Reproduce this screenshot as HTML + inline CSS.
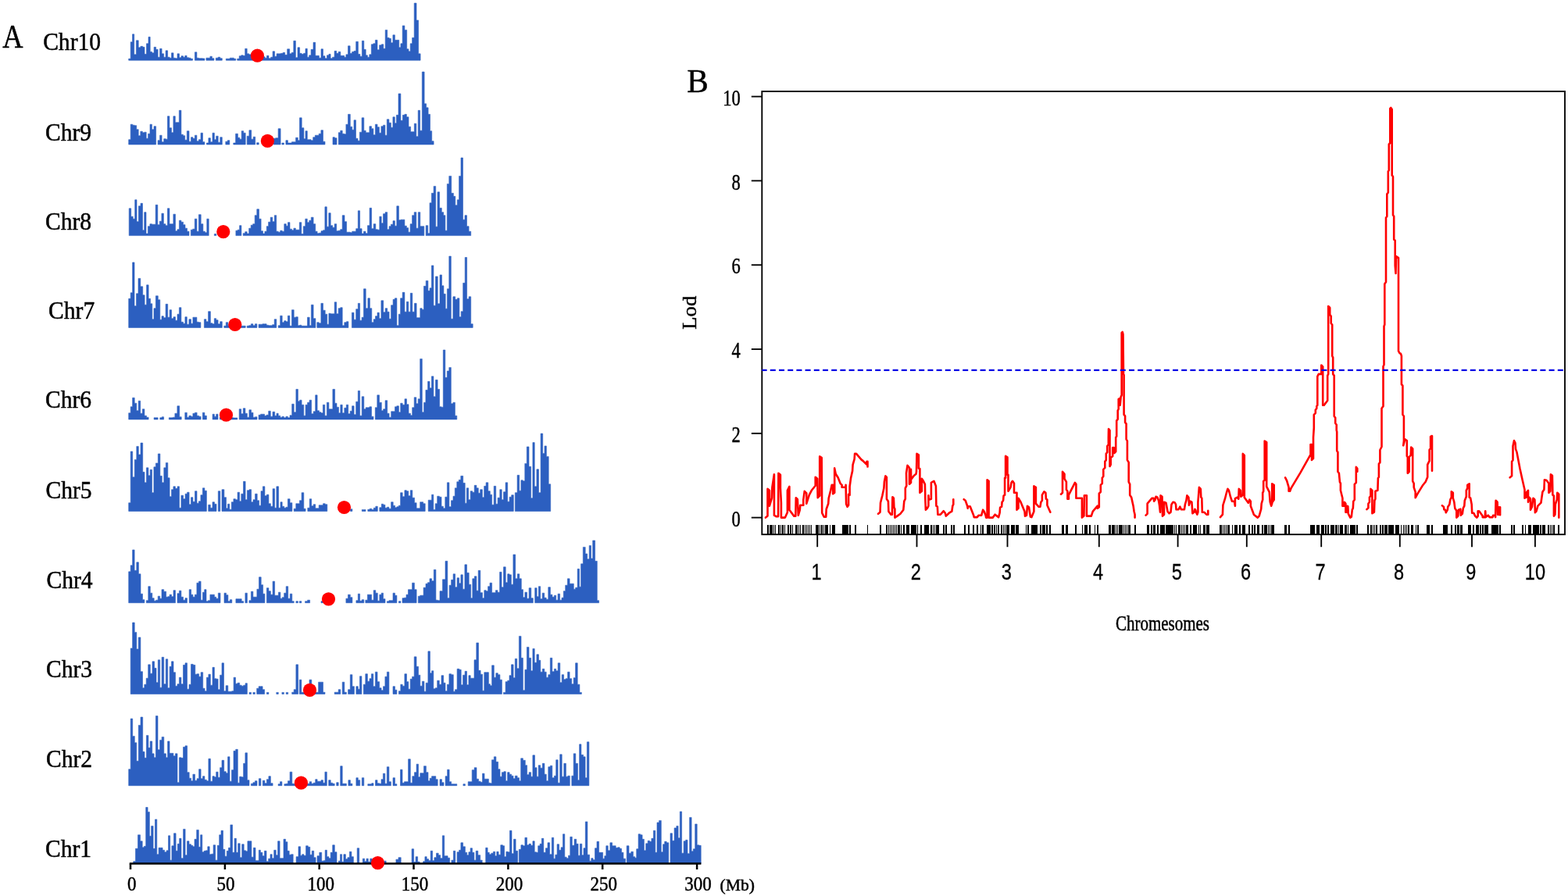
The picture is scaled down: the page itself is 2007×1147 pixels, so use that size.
<!DOCTYPE html>
<html lang="en"><head><meta charset="utf-8"><title>Figure</title>
<style>
html,body{margin:0;padding:0;background:#fff}
body{width:2007px;height:1147px;overflow:hidden}
svg{display:block}
</style></head><body>
<svg width="2007" height="1147" viewBox="0 0 2007 1147">
<rect width="2007" height="1147" fill="#fff"/>
<g id="panelA">
<g fill="#2c5fc0" stroke="#2c5fc0" stroke-width="0.6" stroke-linejoin="round">
<path d="M164.7 77.2V75.2H167.2V53.8H169.5V43.8H171.7V69.8H174.4V51.8H177.2V60.8H179.9V59.3H182.7V60.3H185.0V69.3H187.5V55.8H190.0V47.3H192.2V66.3H194.6V67.8H197.1V60.3H199.6V63.3H202.1V73.2H204.6V62.3H207.1V68.8H209.6V73.2H212.1V64.8H214.6V73.2H217.1V74.2H219.5V67.8H222.0V74.2H224.5V74.7H227.0V68.8H229.5V73.7H232.0V71.7H234.5V73.2H236.8V71.3H239.1V73.7H241.5V74.2H244.0V75.2H246.5V77.2ZM249.4 77.2V66.8H251.9V74.2H254.4V74.7H256.9V74.7H259.4V74.9H261.9V77.2ZM263.9 77.2V74.2H266.4V74.2H268.9V72.2H271.4V74.7H273.9V77.2ZM276.3 77.2V74.2H279.1V73.2H281.8V74.7H284.3V77.2ZM289.3 77.2V75.2H291.8V75.2H294.3V74.2H296.8V74.2H299.3V75.2H301.8V77.2ZM303.7 77.2V75.2H306.2V71.7H308.7V70.8H311.2V71.3H313.7V62.3H316.2V68.8H318.7V69.8H321.2V73.7H323.7V74.2H326.2V74.7H328.7V74.7H331.2V74.7H333.6V74.7H336.4V72.7H339.1V74.2H341.5V71.3H344.0V74.7H346.6V73.2H349.1V65.8H351.6V72.2H354.1V68.8H356.6V68.8H359.4V68.3H362.2V67.3H364.7V70.3H367.7V62.8H370.7V68.8H373.2V67.3H375.8V52.3H378.4V73.7H381.0V60.8H383.6V68.3H386.1V69.3H388.6V68.3H391.0V62.3H393.3V73.2H395.7V70.8H398.1V63.3H401.0V54.3H403.7V71.3H405.9V71.3H408.4V74.2H411.0V62.8H413.5V71.7H416.0V74.7H418.5V70.8H420.9V69.3H423.1V74.7H425.5V73.2H428.1V65.3H430.7V68.3H433.2V66.3H435.8V71.3H438.4V71.3H440.7V73.2H442.9V69.8H445.5V58.8H448.1V68.3H450.6V66.3H453.1V65.3H455.7V53.3H458.4V69.3H460.9V72.2H463.4V52.3H465.8V63.3H468.2V70.8H470.4V73.2H472.8V69.8H475.3V56.8H477.8V55.8H480.4V51.3H483.0V63.8H485.6V57.8H488.3V56.8H490.8V62.3H493.2V38.4H495.7V48.3H498.1V49.3H500.4V54.8H502.9V44.8H505.4V51.3H508.0V51.3H510.7V60.8H512.9V55.8H515.2V32.9H517.9V38.4H520.7V62.8H523.0V65.8H525.2V55.8H527.6V48.3H530.2V4.0H533.0V25.9H535.6V68.8H538.1V77.2Z"/>
<path d="M164.7 185.0V178.7H167.2V159.2H169.7V160.2H172.2V160.7H174.7V165.7H177.2V173.7H179.8V168.2H182.4V169.7H184.8V169.2H187.2V177.2H189.6V171.2H192.0V159.2H194.4V165.7H197.0V161.7H199.6V185.0ZM202.1 185.0V179.7H204.6V173.2H207.1V181.7H209.7V177.7H212.2V178.2H214.4V148.8H216.9V163.7H219.5V169.7H221.9V148.8H224.3V156.7H226.8V156.7H229.3V141.3H231.9V172.2H234.4V173.7H236.7V179.2H239.3V167.7H242.0V181.2H244.5V175.7H246.9V177.2H249.4V173.2H251.9V180.7H254.4V178.7H257.0V170.2H259.5V181.7H261.9V185.0ZM264.4 185.0V183.0H266.9V176.7H269.4V181.7H272.0V170.2H274.4V178.7H276.7V174.2H279.2V182.2H281.8V175.7H284.3V185.0ZM288.8 185.0V181.2H291.3V179.7H293.8V185.0ZM298.8 185.0V183.0H301.6V171.2H304.4V176.2H306.8V178.2H309.2V167.7H311.7V170.2H314.2V185.0ZM316.2 185.0V174.2H318.9V166.7H321.7V178.2H324.2V175.2H326.7V185.0ZM328.7 185.0V182.7H331.2V185.0ZM350.1 185.0V177.2H352.8V176.7H356.1V164.7H359.1V185.0ZM360.9 185.0V183.0H363.4V185.0ZM365.9 185.0V179.7H368.4V183.0H370.9V183.0H373.4V181.7H375.9V181.7H378.6V176.2H381.3V179.7H383.5V150.8H386.2V163.7H388.9V177.7H391.0V167.7H393.3V178.7H395.7V178.7H398.1V179.7H400.7V175.7H403.3V173.2H405.8V173.2H408.2V171.2H410.9V166.7H413.5V181.2H416.0V185.0ZM426.0 185.0V175.7H428.5V176.7H431.0V185.0ZM433.3 185.0V169.7H435.7V167.2H438.2V171.2H440.6V171.7H442.9V159.2H445.5V146.3H448.3V162.2H450.7V166.2H453.0V153.8H455.5V177.2H458.0V180.2H460.4V169.2H463.1V150.8H465.8V167.2H468.2V169.7H470.4V169.7H472.9V161.7H475.5V164.7H477.9V172.7H480.4V159.2H483.0V162.7H485.4V170.2H487.9V161.7H490.5V160.2H492.9V173.2H495.3V152.8H497.9V157.2H500.4V163.2H502.9V149.8H505.3V157.7H507.4V147.3H510.0V119.9H512.9V154.3H515.4V147.3H517.9V146.3H520.4V149.8H523.0V162.2H525.6V168.7H528.0V168.7H530.3V158.2H532.8V174.7H535.2V141.3H537.6V167.2H540.3V92.0H543.1V132.8H545.6V137.8H548.1V146.3H550.5V167.7H552.7V180.7H555.1V185.0Z"/>
<path d="M165.2 301.6V266.8H167.7V277.2H170.2V280.2H172.7V255.8H175.0V283.7H177.4V263.8H180.0V260.3H182.5V294.7H184.7V271.7H187.0V299.1H189.4V289.7H191.9V286.7H194.4V287.2H196.8V287.2H199.2V262.3H201.8V287.7H204.3V283.2H206.9V273.2H209.4V286.7H211.9V288.7H214.4V266.8H216.9V286.7H219.3V286.7H221.9V274.2H224.5V295.7H227.0V293.7H229.4V282.2H231.9V284.2H234.5V287.7H237.0V292.2H239.5V296.2H242.0V301.6ZM244.3 301.6V294.2H246.7V293.2H249.3V280.2H251.9V296.2H254.4V274.7H257.2V286.7H259.9V296.2H262.4V297.7H264.8V280.2H267.2V301.6ZM274.3 301.6V299.6H276.8V301.6ZM301.9 301.6V295.2H304.3V294.2H306.6V288.7H308.9V301.6ZM311.2 301.6V298.7H313.7V296.7H316.2V299.1H318.7V292.2H321.2V288.2H323.7V286.7H326.2V275.7H328.8V267.8H331.5V280.2H334.1V295.7H336.5V299.1H338.9V296.2H341.3V289.7H343.6V284.2H346.2V278.2H348.8V283.7H351.3V275.7H353.7V296.2H356.2V297.2H358.7V295.2H361.2V296.2H363.8V286.7H366.3V289.2H368.5V284.7H371.0V293.2H373.5V294.7H375.9V292.2H378.4V294.2H380.8V294.2H383.3V284.7H385.8V299.6H388.3V289.7H390.8V280.2H393.3V284.7H395.8V282.2H398.3V278.2H401.1V286.7H403.7V296.2H406.1V298.7H408.5V298.2H411.0V295.7H413.5V294.7H415.9V264.8H418.3V290.2H420.8V272.7H423.2V288.7H425.7V291.2H428.2V286.7H430.7V295.7H433.2V295.2H435.7V293.7H438.2V275.7H441.0V283.7H443.6V297.2H445.9V297.2H448.4V297.7H450.7V296.2H453.1V296.2H455.7V292.7H458.3V269.8H460.6V292.7H463.1V299.1H465.5V296.2H468.0V298.7H470.5V288.7H473.1V266.3H475.6V292.7H478.2V286.7H480.8V293.7H483.3V294.2H485.8V277.2H488.2V285.7H490.5V273.7H493.1V271.7H495.7V293.7H498.1V289.7H500.4V287.2H503.0V282.7H505.4V289.2H507.8V263.8H510.4V281.7H512.9V281.2H515.4V281.2H517.9V289.2H520.4V291.7H522.7V297.2H525.1V286.7H527.6V275.7H530.2V271.7H532.8V292.2H535.3V271.7H537.8V289.7H540.3V289.7H542.8V301.6ZM545.2 301.6V288.7H547.7V298.7H550.0V259.8H552.4V247.3H555.1V238.4H557.7V290.2H560.0V245.8H562.6V266.3H565.3V271.7H567.7V275.7H569.9V295.2H572.3V235.4H574.8V225.4H577.7V247.3H580.4V251.3H582.8V262.8H585.3V255.8H587.6V225.4H590.0V202.0H592.5V281.2H595.0V275.7H597.5V289.7H600.1V296.2H602.7V301.6Z"/>
<path d="M164.7 419.4V382.3H167.2V374.8H169.6V335.9H172.0V391.7H174.5V375.8H177.0V356.4H179.8V366.8H182.7V377.8H185.1V390.2H187.6V364.8H190.1V382.3H192.5V388.8H194.8V408.7H197.0V394.7H199.4V378.8H202.3V383.8H204.8V409.2H207.0V404.7H209.4V406.7H212.1V389.3H214.7V406.2H217.1V396.7H219.5V407.7H222.0V405.7H224.5V410.2H227.0V402.2H229.4V393.7H231.9V412.2H234.5V414.2H236.9V405.7H239.3V415.2H241.9V408.7H244.5V414.2H246.9V406.2H249.4V406.2H251.9V412.2H254.4V412.7H256.9V419.4ZM261.4 419.4V408.7H263.9V411.7H266.6V398.7H269.4V413.7H271.9V414.7H274.3V407.7H276.7V409.7H279.1V414.7H281.7V411.7H284.3V419.4ZM286.8 419.4V417.2H289.3V412.7H291.8V416.7H294.3V417.2H296.8V417.2H299.3V417.2H301.8V417.2H304.2V417.2H306.7V417.2H309.2V417.2H311.7V417.2H314.2V419.4ZM316.2 419.4V417.2H318.7V416.7H321.3V414.7H323.9V416.7H326.4V414.7H328.9V419.4ZM331.1 419.4V415.2H333.6V415.2H336.1V414.7H338.6V414.7H341.1V416.2H343.6V416.7H346.1V416.7H348.6V415.7H351.2V408.7H353.8V419.4ZM356.2 419.4V416.7H358.7V404.2H361.2V412.7H363.7V410.7H366.0V411.7H368.4V404.2H370.9V417.2H373.5V396.7H376.2V406.2H378.8V405.7H381.3V416.7H383.5V416.2H385.8V417.2H388.3V417.2H390.8V417.2H393.5V406.2H396.2V416.7H398.4V390.2H401.1V407.7H403.9V419.4ZM405.8 419.4V412.7H408.2V413.7H410.9V388.3H413.5V397.2H416.2V402.2H418.7V415.2H420.9V401.2H423.2V401.7H425.7V401.7H428.2V386.8H430.7V401.7H433.2V394.7H435.7V393.7H438.2V416.7H440.8V412.7H443.4V411.7H445.9V419.4ZM450.4 419.4V400.2H453.0V409.2H455.7V395.7H458.3V388.3H460.6V410.2H463.1V406.2H465.5V369.8H468.2V394.7H470.9V381.8H473.4V394.7H475.8V412.7H478.2V408.7H480.5V404.7H483.0V400.2H485.4V407.7H487.9V384.8H490.7V399.7H493.2V394.7H495.7V399.2H498.1V408.2H500.6V390.7H503.1V383.3H505.4V381.8H507.9V416.7H510.3V402.2H512.6V381.8H515.2V374.3H517.9V399.2H520.4V386.3H522.8V399.2H525.3V375.3H527.8V399.2H530.5V388.3H533.1V406.7H535.5V406.7H537.8V394.7H540.2V396.2H542.5V366.3H545.2V359.4H547.9V372.3H550.1V368.8H552.4V339.9H554.9V391.2H557.5V353.9H560.2V388.8H563.0V351.9H565.5V365.8H567.9V376.3H570.2V395.2H572.4V369.8H574.8V328.0H577.3V408.2H579.9V379.8H582.7V383.3H585.4V381.8H587.9V405.7H590.2V398.7H592.7V362.3H595.2V329.5H597.6V382.8H600.1V379.8H602.7V414.7H605.2V419.4Z"/>
<path d="M164.7 536.9V528.7H167.2V520.7H169.6V509.2H172.2V516.2H174.8V525.7H177.2V513.2H179.7V529.2H182.3V523.7H184.9V532.2H187.5V534.2H190.1V536.9ZM197.1 536.9V534.7H199.6V534.7H202.1V536.9ZM204.8 536.9V534.7H207.2V533.7H209.6V536.9ZM216.3 536.9V534.7H218.8V534.7H221.3V534.2H223.9V529.2H226.9V519.7H229.7V533.7H232.2V536.9ZM236.8 536.9V528.2H239.3V534.2H241.9V532.2H244.5V533.2H246.9V529.2H249.5V528.2H252.1V532.2H254.6V533.2H257.1V536.9ZM259.4 536.9V528.2H261.9V532.2H264.4V536.9ZM272.1 536.9V530.2H274.4V533.2H276.7V530.2H279.0V536.9ZM281.3 536.9V534.2H283.8V534.7H286.3V534.7H288.8V534.7H291.3V534.7H293.8V534.7H296.3V534.7H298.8V534.9H301.3V534.9H303.8V536.9ZM306.2 536.9V523.7H308.7V529.7H311.3V522.7H313.9V529.2H316.4V534.2H318.9V524.7H321.5V528.2H324.0V534.2H326.5V533.7H329.0V536.9ZM331.1 536.9V531.2H333.6V530.2H336.1V530.2H338.6V532.2H341.1V531.2H343.7V526.2H346.3V533.2H349.0V527.2H351.7V532.2H354.0V529.2H356.2V532.2H358.7V534.2H361.1V533.2H363.4V534.7H365.9V533.2H368.4V534.7H371.0V531.7H373.7V517.2H376.2V527.7H378.9V498.3H381.4V513.7H383.5V512.2H386.1V518.2H388.8V532.2H391.1V518.2H393.6V515.2H396.1V512.2H398.6V529.7H401.2V526.7H403.7V505.8H406.1V525.7H408.5V527.7H411.0V528.7H413.4V518.2H415.8V532.2H418.4V515.2H420.9V523.7H423.2V523.7H425.9V498.3H428.6V516.2H431.0V521.2H433.5V528.7H435.8V518.2H438.2V528.7H440.8V522.2H443.3V518.2H445.7V529.7H448.2V526.2H450.6V519.7H453.1V530.7H455.7V514.2H458.3V500.3H460.6V532.2H463.2V507.7H465.8V523.7H468.2V521.7H470.4V521.7H472.9V520.7H475.5V533.2H478.0V536.9ZM480.3 536.9V521.7H482.8V505.8H485.5V515.2H488.3V525.7H490.6V523.7H493.1V512.7H495.7V529.2H498.1V534.2H500.7V526.7H503.3V526.7H505.5V520.7H507.8V519.7H510.4V527.7H512.7V516.2H515.2V518.2H518.0V510.7H520.5V517.7H523.0V529.2H525.5V531.7H527.7V521.7H530.2V508.7H532.8V516.7H535.2V510.7H537.7V459.4H540.3V527.7H542.6V515.2H544.9V499.3H547.6V488.3H550.0V496.8H552.4V481.8H554.9V507.7H557.5V486.3H560.1V498.3H562.6V520.7H564.9V521.2H567.3V448.0H569.8V483.3H572.3V474.9H574.8V470.4H577.3V516.7H579.9V515.2H582.4V532.2H584.8V536.9Z"/>
<path d="M164.7 654.4V643.7H167.2V577.9H169.7V610.8H172.3V588.4H174.8V571.4H177.3V581.9H180.0V567.0H182.7V604.3H185.0V617.8H187.4V598.8H189.9V608.8H192.2V601.3H194.5V630.7H196.9V597.8H199.4V592.9H202.3V580.9H204.9V609.3H207.3V617.8H209.8V598.8H212.3V592.4H214.8V611.8H217.1V635.7H219.5V626.7H221.9V622.8H224.4V625.3H227.1V622.8H229.5V650.2H231.9V634.2H234.6V638.7H237.1V632.2H239.6V630.2H242.1V645.7H244.5V636.7H246.9V642.2H249.5V628.7H252.0V644.2H254.4V641.7H256.9V633.7H259.4V624.8H261.9V628.2H264.4V654.4ZM266.7 654.4V646.2H269.3V650.2H272.0V642.7H274.5V645.2H277.0V654.4ZM279.3 654.4V628.7H281.8V654.4ZM284.0 654.4V626.7H286.9V636.7H289.5V650.7H291.5V645.2H293.8V652.2H296.3V642.7H298.9V638.7H301.5V639.7H304.1V630.2H306.6V641.7H308.8V632.2H311.5V616.3H314.1V639.7H316.4V627.7H319.0V626.7H321.6V642.7H324.0V639.7H326.6V632.2H329.2V640.7H331.6V647.2H334.0V628.7H336.4V622.8H338.9V634.7H341.4V633.2H343.9V644.7H346.4V648.2H349.1V625.7H351.6V650.2H353.9V622.8H356.6V650.2H359.0V642.7H361.2V648.2H363.7V650.2H366.0V649.2H368.4V638.7H371.1V643.7H373.9V654.4ZM376.2 654.4V651.2H378.8V644.7H381.3V644.7H383.5V640.7H386.1V630.7H388.8V651.2H391.1V654.4ZM393.8 654.4V650.2H396.3V638.7H398.7V647.7H401.2V645.7H403.7V650.7H405.9V650.7H408.2V646.7H410.9V646.7H413.5V644.7H416.2V645.7H418.8V654.4ZM448.4 654.4V651.7H450.9V654.4ZM463.3 654.4V652.4H465.7V652.4H468.0V654.4ZM470.8 654.4V652.2H473.3V651.2H475.8V652.4H478.3V650.2H480.8V648.2H483.3V654.4ZM485.8 654.4V649.7H488.3V645.2H490.6V646.2H492.9V650.2H495.4V649.2H497.9V651.2H500.6V642.7H503.2V647.2H505.6V649.7H507.9V648.7H510.3V647.2H512.6V630.7H515.2V635.7H517.9V627.7H520.4V628.7H522.8V634.7H525.3V627.7H527.8V637.2H530.5V643.7H533.1V650.7H535.5V650.7H537.7V642.7H539.7V642.7H541.7V644.7H544.2V654.4ZM548.2 654.4V640.2H550.5V640.2H552.6V633.2H554.8V652.4H557.2V644.7H559.7V635.2H562.4V636.2H565.0V648.2H567.4V650.7H569.8V636.2H572.4V617.8H574.9V648.7H577.5V640.7H580.0V635.2H582.3V624.8H584.8V616.8H587.3V614.3H589.8V609.3H592.7V618.3H595.2V644.2H597.3V624.8H599.7V639.7H602.2V628.7H604.7V630.2H607.2V621.3H609.9V624.8H612.3V631.2H614.7V626.7H617.4V636.7H619.7V622.3H622.1V617.8H624.8V628.7H627.3V633.2H629.6V646.2H632.2V622.3H634.7V645.2H637.1V637.2H639.8V626.7H642.2V639.7H644.5V629.7H647.1V617.8H649.7V642.2H652.1V636.2H654.7V633.7H657.3V654.4ZM659.3 654.4V630.7H662.1V608.3H664.7V628.2H666.9V614.8H669.3V615.8H671.8V593.4H674.3V571.9H677.0V597.3H679.6V637.7H681.9V566.5H684.2V622.8H686.9V600.8H689.5V630.7H692.1V555.0H694.7V580.4H697.0V570.9H699.4V584.4H702.2V619.8H704.7V654.4Z"/>
<path d="M164.7 771.7V731.8H167.2V723.8H169.6V703.9H172.1V730.3H174.8V719.8H177.4V734.8H180.0V760.2H182.5V767.7H184.9V771.7ZM187.3 771.7V768.7H189.8V750.7H192.3V759.2H194.8V765.7H197.2V769.2H199.6V768.2H202.2V763.2H204.7V766.2H207.0V754.7H209.7V757.2H212.6V764.2H214.9V763.7H217.1V761.2H219.5V763.7H222.0V755.7H224.5V771.7ZM227.0 771.7V759.7H229.4V756.2H231.9V764.2H234.5V768.2H237.0V765.7H239.5V771.7ZM242.2 771.7V754.7H244.6V761.2H246.9V764.2H249.4V761.2H251.9V746.2H254.5V744.2H257.1V768.2H259.5V758.2H261.7V754.7H264.0V769.7H266.4V768.7H268.9V761.2H271.7V761.2H274.4V764.2H276.7V766.2H279.3V759.2H282.0V771.7ZM287.0 771.7V759.2H289.5V761.7H291.9V769.7H294.3V767.7H296.8V771.7ZM301.9 771.7V766.7H304.3V766.7H306.7V766.7H309.2V769.7H311.7V771.7ZM313.9 771.7V759.2H316.4V771.7ZM318.9 771.7V768.7H321.4V757.2H323.9V764.2H326.4V764.2H328.9V754.2H331.5V738.8H334.2V748.7H336.6V760.2H338.9V771.7ZM341.4 771.7V752.7H343.9V756.7H346.4V761.2H349.1V744.2H351.6V762.2H353.8V762.2H356.4V758.2H358.9V766.2H361.2V764.7H363.7V759.2H366.2V750.7H368.7V766.2H371.3V760.2H373.8V769.7H376.2V771.7ZM378.9 771.7V769.7H381.4V771.7ZM383.3 771.7V769.7H385.8V771.7ZM390.6 771.7V769.7H393.6V768.2H396.6V771.7ZM411.0 771.7V769.7H413.5V771.7ZM442.9 771.7V766.2H445.5V761.2H448.3V764.7H450.9V771.7ZM455.9 771.7V768.7H458.3V760.2H460.6V769.2H463.2V767.7H465.8V771.7ZM467.8 771.7V768.2H470.4V761.2H473.1V761.2H475.6V768.2H478.2V755.7H480.8V759.2H483.3V769.2H485.8V761.2H488.2V759.2H490.5V766.7H493.0V771.7ZM495.4 771.7V769.7H497.9V768.7H500.4V768.7H503.0V759.2H505.5V762.2H507.9V771.7ZM510.4 771.7V769.7H512.9V771.7ZM515.0 771.7V765.7H517.5V765.2H520.0V761.2H522.5V754.7H525.1V754.7H527.6V746.2H530.4V754.7H533.1V771.7ZM535.3 771.7V763.2H537.8V762.2H539.8V762.2H542.1V752.2H545.0V747.2H547.5V745.7H550.0V740.8H552.6V743.7H555.3V729.3H557.9V768.2H560.3V768.7H563.0V756.7H566.5V741.8H570.0V718.3H572.8V765.7H575.1V749.2H577.6V742.3H580.1V734.8H582.6V751.7H585.1V739.8H587.6V746.7H589.9V735.8H592.3V754.2H594.9V722.8H597.5V733.3H600.2V748.2H602.7V765.7H604.8V740.8H607.3V737.8H609.9V756.2H612.2V730.3H614.8V758.7H617.5V765.7H619.8V755.7H622.2V756.7H624.6V750.7H627.0V746.2H629.6V758.7H632.0V758.7H634.4V755.7H636.9V758.2H639.6V732.3H642.0V751.7H644.5V725.8H647.2V745.7H649.7V734.8H652.1V735.8H654.4V748.2H656.9V709.9H659.7V740.8H662.3V734.8H664.8V740.8H667.3V754.7H669.5V764.7H671.9V758.2H674.5V766.2H677.1V752.7H679.8V765.7H682.3V771.7ZM684.7 771.7V752.7H687.1V763.7H689.4V750.7H691.7V766.7H694.2V759.2H696.7V765.2H699.2V767.2H701.8V751.7H704.4V761.2H706.9V764.2H709.4V762.2H711.7V768.2H714.1V760.2H716.6V768.2H719.0V765.2H721.3V756.7H723.7V749.2H726.4V740.8H729.1V747.2H731.8V747.2H734.3V754.2H736.6V752.2H739.2V728.3H741.6V751.2H743.6V721.8H746.3V700.4H749.2V708.9H751.7V715.8H754.2V698.4H756.5V714.9H758.7V691.9H761.6V718.3H764.3V768.7H766.6V771.7Z"/>
<path d="M167.2 888.4V829.9H169.6V797.0H172.2V809.4H174.8V830.9H177.2V815.9H179.9V859.7H182.5V880.7H184.8V876.2H187.2V868.2H189.7V850.8H192.3V862.2H195.0V846.8H197.6V855.3H200.0V873.7H202.3V844.8H204.7V880.2H207.1V841.3H209.7V875.7H212.3V843.8H214.7V880.7H217.1V853.3H219.5V846.8H222.0V860.7H224.5V878.2H227.0V875.7H229.4V867.2H231.9V875.7H234.5V851.3H237.0V848.8H239.5V882.2H242.0V876.2H244.5V850.3H247.2V851.3H249.8V863.2H252.1V862.7H254.6V866.2H257.1V860.7H259.7V881.2H262.1V884.7H264.5V867.2H266.9V863.2H269.4V877.2H272.0V854.3H274.4V868.7H276.7V869.2H279.1V882.7H281.6V864.2H284.0V848.8H286.5V884.7H289.1V877.7H291.8V885.2H294.3V885.2H296.8V884.7H299.1V867.2H301.5V875.2H304.1V874.2H306.7V877.2H309.2V878.2H311.7V877.2H314.1V874.7H316.4V888.4ZM319.0 888.4V886.4H321.5V888.4ZM323.9 888.4V886.4H326.4V888.4ZM328.7 888.4V881.2H331.2V878.7H333.6V878.7H336.1V882.7H338.6V888.4ZM341.4 888.4V886.4H343.9V888.4ZM353.8 888.4V886.4H356.3V888.4ZM360.9 888.4V886.4H363.4V888.4ZM366.2 888.4V886.4H368.7V888.4ZM373.7 888.4V886.2H376.2V882.7H378.9V850.8H381.6V888.4ZM383.3 888.4V870.2H385.8V886.2H388.3V886.4H390.8V886.4H393.3V886.4H396.0V870.2H398.8V886.4H401.3V886.4H404.2V886.2H407.6V873.2H410.9V873.2H413.5V886.2H416.0V888.4ZM428.2 888.4V886.2H430.7V886.2H433.2V882.7H435.8V888.4ZM438.2 888.4V873.2H440.8V886.2H443.4V888.4ZM445.6 888.4V882.7H448.3V863.7H450.9V878.7H453.4V888.4ZM455.9 888.4V878.7H458.3V882.2H460.5V865.7H462.9V888.4ZM465.3 888.4V876.2H467.8V862.7H470.4V872.2H473.0V868.7H475.4V862.7H477.8V878.7H480.4V860.2H483.0V872.7H485.6V880.7H488.1V883.7H490.5V878.7H492.9V866.2H495.4V860.2H497.9V888.4ZM503.0 888.4V878.7H505.5V883.2H507.9V888.4ZM510.4 888.4V884.7H512.8V876.2H515.2V878.2H517.9V862.7H520.5V872.7H522.8V882.2H525.2V869.2H527.6V866.2H530.2V840.8H533.0V853.3H535.5V864.2H537.8V878.2H540.4V872.2H542.9V885.2H545.2V874.2H547.9V833.8H550.4V861.7H552.6V858.8H554.8V881.7H557.2V880.7H559.7V871.2H562.3V876.2H565.0V864.7H567.7V874.2H570.0V884.7H572.4V876.2H574.9V862.7H577.6V863.7H580.3V885.2H582.5V882.7H585.1V856.3H587.9V857.3H590.2V876.7H592.6V864.2H595.1V859.3H597.5V876.7H599.9V864.7H602.2V868.2H604.6V868.2H607.0V844.8H609.8V822.9H612.5V858.3H615.1V863.2H617.6V884.2H619.8V860.7H622.6V860.7H625.4V875.7H627.4V877.7H629.6V851.8H632.3V867.2H634.8V861.7H637.3V863.7H639.9V870.2H642.4V888.4ZM644.4 888.4V886.4H647.1V872.7H649.7V871.2H652.0V864.7H654.5V850.8H657.1V867.7H659.3V843.3H661.7V855.8H664.4V814.4H667.0V842.3H669.4V883.7H671.9V857.3H674.4V828.4H677.0V842.3H679.6V858.8H681.9V830.4H684.2V848.3H686.9V837.8H689.5V845.3H691.8V860.2H694.3V856.3H696.8V860.2H699.2V867.2H701.8V863.7H704.3V842.3H706.8V859.7H709.4V856.3H711.7V858.8H714.2V848.8H716.8V873.7H719.2V863.7H721.6V869.7H724.1V868.7H726.6V860.2H729.1V868.7H731.7V875.7H734.2V867.7H736.6V848.8H739.2V876.2H741.9V886.4H744.4V888.4Z"/>
<path d="M164.7 1005.7V984.7H167.2V920.0H169.7V942.4H172.3V950.8H174.8V974.3H177.3V928.4H180.0V918.0H182.7V962.3H185.0V970.3H187.4V941.4H189.9V957.3H192.2V948.9H194.7V964.8H197.1V969.8H199.4V916.5H202.0V959.8H204.6V947.4H207.1V943.4H209.8V964.8H212.4V969.8H214.6V948.9H217.0V964.3H219.5V964.3H221.9V967.8H224.4V964.8H227.0V1001.7H229.4V969.8H231.9V970.3H234.5V956.3H237.0V954.8H239.6V988.7H242.2V996.2H244.6V999.7H246.9V991.2H249.5V999.2H252.1V996.7H254.6V984.7H257.1V996.7H259.5V993.7H261.9V998.2H264.4V999.7H266.9V971.3H269.4V1000.2H272.0V993.7H274.4V994.7H276.7V988.2H279.1V995.2H281.6V982.7H284.0V973.3H286.7V987.7H289.3V989.7H291.6V968.8H294.0V1000.2H296.5V985.7H299.0V961.3H301.7V959.3H304.3V1002.2H306.6V994.2H309.1V994.7H311.6V977.3H313.9V963.8H316.5V998.7H319.0V1005.7ZM321.4 1005.7V1003.2H323.9V1001.7H326.4V999.7H329.0V1005.7ZM331.4 1005.7V996.7H333.9V1005.7ZM336.3 1005.7V999.2H338.9V1002.7H341.4V997.7H343.9V993.7H346.4V1002.7H349.1V1005.7ZM356.1 1005.7V1003.7H358.5V1000.7H360.9V1005.7ZM363.9 1005.7V1003.7H366.3V1003.2H368.5V999.7H371.1V988.2H373.8V1003.2H376.2V1003.7H378.6V1003.7H381.1V1003.7H383.6V1003.7H386.1V1003.7H388.6V1003.7H391.1V1003.7H393.6V1003.2H396.2V1000.7H398.7V1003.2H401.2V1002.2H403.7V997.7H406.1V1000.2H408.5V1000.2H411.0V998.7H413.5V1002.2H415.9V988.2H418.3V1005.7ZM420.7 1005.7V998.7H423.2V1002.2H425.7V1003.2H428.2V1005.7ZM430.7 1005.7V1001.7H433.2V1005.7ZM435.7 1005.7V980.7H438.2V1003.2H440.8V1003.2H443.4V1005.7ZM445.9 1005.7V998.7H448.4V1003.2H450.9V1005.7ZM455.9 1005.7V995.7H458.3V998.7H460.7V1005.7ZM463.3 1005.7V995.7H465.8V1005.7ZM470.8 1005.7V1003.7H473.3V1003.7H475.7V1002.7H478.0V1005.7ZM480.5 1005.7V998.7H483.0V1002.7H485.5V1003.2H488.0V997.7H490.4V990.2H492.8V1003.2H495.3V981.7H497.9V1000.7H500.4V1005.7ZM503.0 1005.7V995.7H505.5V1003.7H507.9V1005.7ZM512.5 1005.7V985.2H515.0V1002.2H517.5V1000.7H520.0V1000.7H522.6V971.8H525.3V1002.2H527.8V993.7H530.5V988.7H533.1V978.2H535.5V994.7H537.8V989.7H540.2V989.7H542.5V980.7H545.4V988.7H548.0V999.7H550.2V996.2H552.6V993.7H555.1V993.7H557.8V997.7H560.2V1005.7ZM563.0 1005.7V997.7H565.5V1001.7H568.0V1005.7ZM570.1 1005.7V993.7H572.6V985.2H575.1V1000.7H577.6V1003.7H580.1V1003.7H582.5V1003.7H584.8V1005.7ZM592.9 1005.7V1003.7H595.4V1005.7ZM599.2 1005.7V1000.7H601.7V1000.7H604.2V985.7H607.1V982.7H610.0V997.2H612.5V1000.2H615.0V1001.2H617.5V990.2H620.0V997.2H622.7V997.2H625.4V1002.2H627.3V1002.7H629.5V972.8H632.3V968.8H634.9V975.3H637.6V984.7H640.0V994.2H642.4V988.7H644.9V987.7H647.3V999.7H649.6V988.7H652.1V991.2H654.6V993.2H657.0V996.7H659.3V993.2H662.1V995.7H664.6V999.7H666.7V970.8H669.4V973.3H672.3V979.7H674.6V991.7H677.1V988.7H679.6V994.2H681.9V966.8H684.5V982.7H687.0V994.2H689.2V979.7H691.7V983.2H694.3V977.3H696.9V991.2H699.3V999.7H701.8V981.7H704.3V980.2H706.8V995.7H709.4V993.2H711.7V972.8H714.1V1002.2H716.7V965.8H719.2V994.2H721.8V977.3H724.4V994.2H726.8V993.2H729.3V1005.7ZM731.8 1005.7V993.2H734.2V964.8H736.8V977.3H739.5V998.7H741.6V952.8H743.9V966.3H746.6V968.8H749.1V995.7H751.4V949.8H753.9V1005.7Z"/>
<path d="M170.7 1105.4V1102.7H173.5V1086.3H176.5V1068.8H179.5V1076.8H182.2V1084.8H184.4V1083.3H186.7V1033.5H189.1V1039.4H191.4V1070.3H193.6V1057.4H196.1V1086.3H198.5V1048.9H200.8V1093.7H203.1V1085.3H205.6V1085.3H208.1V1088.3H210.6V1090.8H213.1V1088.8H215.5V1069.8H217.7V1101.2H219.9V1082.8H222.5V1066.8H225.1V1089.3H227.3V1080.3H229.6V1073.3H232.0V1098.7H234.6V1061.4H237.1V1094.7H239.5V1076.8H242.0V1080.8H244.5V1082.3H246.8V1083.8H249.0V1074.3H251.7V1062.4H254.3V1084.3H256.6V1068.8H258.8V1090.8H261.1V1089.3H263.5V1088.8H265.8V1083.8H268.2V1093.7H270.6V1093.2H273.1V1081.8H275.7V1101.2H278.3V1082.3H280.7V1068.8H283.0V1063.3H285.5V1087.3H287.9V1096.2H290.3V1089.3H292.5V1085.3H294.9V1055.9H297.6V1091.3H300.1V1073.3H302.4V1091.3H304.7V1079.8H307.2V1097.7H309.7V1080.8H312.2V1088.8H314.6V1089.8H316.9V1076.8H319.4V1076.8H321.9V1097.2H324.4V1085.3H327.0V1101.7H329.4V1101.7H331.3V1088.3H333.4V1091.3H335.9V1095.7H338.4V1089.3H341.0V1102.7H343.6V1099.2H346.0V1093.7H348.2V1098.7H350.7V1088.3H353.2V1094.7H355.6V1076.8H358.1V1098.7H360.6V1098.7H363.0V1074.3H365.6V1077.8H367.9V1089.3H370.2V1094.2H372.7V1093.7H375.2V1105.4ZM379.1 1105.4V1096.7H382.0V1083.8H384.6V1095.2H386.7V1093.7H388.9V1095.2H391.6V1082.8H394.3V1084.3H396.8V1094.2H399.3V1089.3H401.7V1097.7H404.1V1105.4ZM406.0 1105.4V1095.7H408.8V1091.3H411.7V1102.2H414.2V1101.7H416.2V1088.3H418.4V1096.7H420.9V1098.7H423.2V1091.3H425.7V1081.8H428.3V1090.8H431.0V1105.4ZM433.3 1105.4V1102.2H435.5V1093.7H437.6V1103.2H439.9V1093.7H442.4V1099.7H444.9V1097.7H447.4V1090.3H449.9V1096.7H452.4V1105.4ZM457.2 1105.4V1085.8H459.7V1105.4ZM464.3 1105.4V1099.2H466.7V1102.7H469.0V1099.2H471.3V1103.2H473.8V1099.2H476.3V1105.4ZM491.7 1105.4V1102.2H494.2V1105.4ZM506.9 1105.4V1100.2H510.0V1097.7H513.2V1105.4ZM527.1 1105.4V1086.8H529.6V1103.4H532.1V1096.7H534.6V1103.2H537.1V1105.4ZM541.6 1105.4V1102.7H543.9V1096.7H546.2V1099.7H548.7V1101.7H551.2V1089.3H553.6V1101.7H555.9V1097.7H558.5V1092.2H561.2V1094.7H563.7V1098.7H566.3V1069.8H568.7V1095.7H570.9V1095.7H573.1V1098.2H575.6V1105.4ZM577.9 1105.4V1101.2H580.4V1089.3H582.8V1105.4ZM585.1 1105.4V1090.8H587.6V1088.3H589.9V1078.8H592.6V1083.8H595.4V1091.3H597.7V1094.7H599.9V1090.8H602.1V1085.8H604.5V1091.3H606.9V1101.2H609.2V1089.3H611.8V1094.7H614.7V1101.2H617.2V1105.4ZM621.7 1105.4V1085.3H624.1V1091.3H626.3V1093.7H628.8V1092.2H631.4V1090.3H633.7V1095.7H635.8V1090.3H638.1V1094.2H640.8V1081.8H643.5V1082.8H645.6V1096.7H647.9V1090.3H650.1V1090.8H652.5V1063.3H655.0V1092.7H657.5V1074.3H660.1V1089.3H662.6V1105.4ZM664.3 1105.4V1087.3H666.9V1081.8H669.4V1082.8H671.9V1072.3H674.5V1081.8H677.0V1080.3H679.5V1082.3H681.9V1076.8H684.2V1090.8H686.5V1091.3H688.7V1082.8H691.1V1080.3H693.4V1073.3H695.8V1091.3H698.4V1085.8H701.0V1078.8H703.6V1093.7H706.3V1072.3H708.7V1099.2H710.8V1094.2H713.1V1080.8H715.6V1088.3H718.1V1084.8H720.5V1067.8H722.8V1097.2H725.2V1098.7H727.5V1095.2H729.8V1071.3H732.3V1082.3H735.1V1074.3H737.7V1080.3H740.1V1095.2H742.4V1080.3H744.8V1094.7H747.0V1085.8H749.3V1051.9H751.9V1094.2H754.6V1102.2H756.8V1098.7H759.1V1100.7H761.5V1085.8H764.0V1077.3H766.6V1091.3H769.1V1091.3H771.6V1099.2H773.8V1095.7H775.8V1082.8H778.2V1088.8H780.9V1078.8H783.6V1082.8H785.9V1082.8H788.2V1085.3H790.7V1084.8H793.2V1086.3H795.5V1091.3H797.9V1099.2H800.5V1105.4ZM802.2 1105.4V1082.8H805.0V1092.2H807.8V1090.3H810.4V1096.7H812.7V1098.2H814.7V1086.8H817.1V1067.8H819.7V1068.8H822.1V1074.3H824.4V1088.8H826.7V1079.8H829.2V1076.3H831.5V1077.3H833.9V1073.3H836.4V1063.3H838.8V1091.3H841.0V1052.9H843.6V1050.4H846.3V1090.8H848.6V1080.8H850.7V1077.3H853.2V1078.8H855.8V1105.4ZM858.0 1105.4V1066.8H860.5V1076.3H863.1V1059.9H865.8V1057.4H868.1V1072.8H870.3V1038.9H872.6V1092.2H875.1V1076.8H877.6V1075.3H880.0V1092.7H882.6V1046.4H885.1V1089.8H887.3V1086.8H889.7V1054.9H892.2V1081.8H894.7V1082.3H897.2V1105.4Z"/>
</g>
<g stroke="#000" stroke-width="2.5" fill="none">
<path d="M165.8 1105.6H897.4"/>
<path d="M167.0 1105.6V1113"/>
<path d="M287.9 1105.6V1113"/>
<path d="M408.7 1105.6V1113"/>
<path d="M529.5 1105.6V1113"/>
<path d="M650.4 1105.6V1113"/>
<path d="M771.2 1105.6V1113"/>
<path d="M892.1 1105.6V1113"/>
</g>
<g fill="#ff0000">
<circle cx="329.4" cy="71.2" r="8.6"/>
<circle cx="342.4" cy="180.4" r="8.6"/>
<circle cx="285.8" cy="296.7" r="8.6"/>
<circle cx="300.8" cy="415.5" r="8.6"/>
<circle cx="289.5" cy="531.2" r="8.6"/>
<circle cx="440.5" cy="649.5" r="8.6"/>
<circle cx="420.5" cy="766.9" r="8.6"/>
<circle cx="396.5" cy="883.4" r="8.6"/>
<circle cx="385.4" cy="1002.2" r="8.6"/>
<circle cx="483.5" cy="1104.7" r="8.6"/>
</g>
<g font-family="'Liberation Serif', 'Times New Roman', serif" fill="#000" stroke="#000" stroke-width="0.5" stroke-linejoin="round">
<text transform="translate(3.2 61.0) scale(0.875 1)" font-size="41.5">A</text>
<text transform="translate(92.1 63.5) scale(0.962 1)" font-size="30.75" text-anchor="middle">Chr10</text>
<text transform="translate(87.5 179.5) scale(0.962 1)" font-size="30.75" text-anchor="middle">Chr9</text>
<text transform="translate(87.5 294) scale(0.962 1)" font-size="30.75" text-anchor="middle">Chr8</text>
<text transform="translate(91.6 408) scale(0.962 1)" font-size="30.75" text-anchor="middle">Chr7</text>
<text transform="translate(87.5 522.3) scale(0.962 1)" font-size="30.75" text-anchor="middle">Chr6</text>
<text transform="translate(88 638) scale(0.962 1)" font-size="30.75" text-anchor="middle">Chr5</text>
<text transform="translate(89 753) scale(0.962 1)" font-size="30.75" text-anchor="middle">Chr4</text>
<text transform="translate(88.5 866.5) scale(0.962 1)" font-size="30.75" text-anchor="middle">Chr3</text>
<text transform="translate(88.5 982) scale(0.962 1)" font-size="30.75" text-anchor="middle">Chr2</text>
<text transform="translate(87.5 1097) scale(0.962 1)" font-size="30.75" text-anchor="middle">Chr1</text>
<text transform="translate(168.8 1140.2) scale(0.905 1)" font-size="25.4" text-anchor="middle">0</text>
<text transform="translate(288.9 1140.2) scale(0.905 1)" font-size="25.4" text-anchor="middle">50</text>
<text transform="translate(410.7 1140.2) scale(0.905 1)" font-size="25.4" text-anchor="middle">100</text>
<text transform="translate(531.0 1140.2) scale(0.905 1)" font-size="25.4" text-anchor="middle">150</text>
<text transform="translate(651.9 1140.2) scale(0.905 1)" font-size="25.4" text-anchor="middle">200</text>
<text transform="translate(772.8 1140.2) scale(0.905 1)" font-size="25.4" text-anchor="middle">250</text>
<text transform="translate(893.6 1140.2) scale(0.905 1)" font-size="25.4" text-anchor="middle">300</text>
<text transform="translate(921.5 1140.2) scale(1.03 1)" font-size="21">(Mb)</text>
</g>
</g>
<g id="panelB">
<path d="M981.5 672H983.5V684.2H981.5ZM985.4 672H988.9V684.2H985.4ZM989.9 672H991.1V684.2H989.9ZM991.6 672H993.1V684.2H991.6ZM996.1 672H997.7V684.2H996.1ZM999.4 672H1000.4V684.2H999.4ZM1001.4 672H1002.7V684.2H1001.4ZM1003.7 672H1004.9V684.2H1003.7ZM1007.7 672H1008.7V684.2H1007.7ZM1009.4 672H1010.4V684.2H1009.4ZM1010.9 672H1011.9V684.2H1010.9ZM1012.4 672H1013.3V684.2H1012.4ZM1013.8 672H1014.8V684.2H1013.8ZM1017.6 672H1021.0V684.2H1017.6ZM1021.6 672H1022.6V684.2H1021.6ZM1023.8 672H1025.0V684.2H1023.8ZM1027.3 672H1028.6V684.2H1027.3ZM1029.8 672H1031.0V684.2H1029.8ZM1031.8 672H1033.0V684.2H1031.8ZM1034.1 672H1035.3V684.2H1034.1ZM1035.8 672H1036.8V684.2H1035.8ZM1037.6 672H1038.8V684.2H1037.6ZM1043.9 672H1047.9V684.2H1043.9ZM1049.2 672H1050.2V684.2H1049.2ZM1050.7 672H1051.7V684.2H1050.7ZM1052.4 672H1053.4V684.2H1052.4ZM1054.2 672H1055.2V684.2H1054.2ZM1055.9 672H1059.7V684.2H1055.9ZM1061.5 672H1062.9V684.2H1061.5ZM1064.7 672H1069.2V684.2H1064.7ZM1078.1 672H1085.6V684.2H1078.1ZM1087.4 672H1088.6V684.2H1087.4ZM1093.6 672H1095.8V684.2H1093.6ZM1109.8 672H1111.3V684.2H1109.8ZM1125.5 672H1127.9V684.2H1125.5ZM1133.9 672H1135.6V684.2H1133.9ZM1137.4 672H1138.4V684.2H1137.4ZM1139.1 672H1140.1V684.2H1139.1ZM1140.9 672H1142.2V684.2H1140.9ZM1143.4 672H1144.4V684.2H1143.4ZM1145.1 672H1146.2V684.2H1145.1ZM1146.9 672H1147.9V684.2H1146.9ZM1149.4 672H1150.6V684.2H1149.4ZM1151.4 672H1152.4V684.2H1151.4ZM1153.1 672H1154.1V684.2H1153.1ZM1156.3 672H1158.3V684.2H1156.3ZM1160.0 672H1163.5V684.2H1160.0ZM1166.0 672H1173.0V684.2H1166.0ZM1174.0 672H1175.4V684.2H1174.0ZM1178.4 672H1180.4V684.2H1178.4ZM1182.9 672H1189.4V684.2H1182.9ZM1191.4 672H1192.9V684.2H1191.4ZM1193.9 672H1194.9V684.2H1193.9ZM1195.7 672H1196.9V684.2H1195.7ZM1198.4 672H1201.9V684.2H1198.4ZM1206.8 672H1208.8V684.2H1206.8ZM1210.3 672H1211.6V684.2H1210.3ZM1217.3 672H1218.8V684.2H1217.3ZM1219.8 672H1221.8V684.2H1219.8ZM1234.2 672H1235.7V684.2H1234.2ZM1238.7 672H1240.7V684.2H1238.7ZM1245.2 672H1246.7V684.2H1245.2ZM1250.2 672H1252.2V684.2H1250.2ZM1254.7 672H1256.2V684.2H1254.7ZM1257.2 672H1258.7V684.2H1257.2ZM1262.6 672H1268.1V684.2H1262.6ZM1269.1 672H1270.6V684.2H1269.1ZM1272.1 672H1273.6V684.2H1272.1ZM1274.6 672H1276.1V684.2H1274.6ZM1277.1 672H1278.6V684.2H1277.1ZM1280.6 672H1283.1V684.2H1280.6ZM1284.1 672H1285.1V684.2H1284.1ZM1285.8 672H1286.8V684.2H1285.8ZM1287.6 672H1288.6V684.2H1287.6ZM1289.3 672H1290.5V684.2H1289.3ZM1291.3 672H1292.3V684.2H1291.3ZM1293.5 672H1294.5V684.2H1293.5ZM1295.3 672H1296.5V684.2H1295.3ZM1297.3 672H1298.5V684.2H1297.3ZM1299.5 672H1304.0V684.2H1299.5ZM1313.0 672H1314.0V684.2H1313.0ZM1315.0 672H1316.5V684.2H1315.0ZM1319.9 672H1327.9V684.2H1319.9ZM1331.4 672H1333.4V684.2H1331.4ZM1334.4 672H1337.9V684.2H1334.4ZM1339.4 672H1340.9V684.2H1339.4ZM1343.4 672H1344.9V684.2H1343.4ZM1359.0 672H1361.5V684.2H1359.0ZM1363.5 672H1366.9V684.2H1363.5ZM1375.9 672H1378.4V684.2H1375.9ZM1384.9 672H1386.4V684.2H1384.9ZM1388.4 672H1391.9V684.2H1388.4ZM1393.8 672H1396.3V684.2H1393.8ZM1400.8 672H1402.3V684.2H1400.8ZM1404.3 672H1406.3V684.2H1404.3ZM1419.3 672H1421.7V684.2H1419.3ZM1423.2 672H1427.2V684.2H1423.2ZM1428.0 672H1429.2V684.2H1428.0ZM1429.7 672H1430.9V684.2H1429.7ZM1431.7 672H1437.2V684.2H1431.7ZM1438.2 672H1439.2V684.2H1438.2ZM1440.0 672H1441.0V684.2H1440.0ZM1441.7 672H1442.9V684.2H1441.7ZM1444.2 672H1446.7V684.2H1444.2ZM1452.1 672H1454.1V684.2H1452.1ZM1468.1 672H1470.6V684.2H1468.1ZM1473.1 672H1475.1V684.2H1473.1ZM1476.1 672H1478.6V684.2H1476.1ZM1480.5 672H1483.0V684.2H1480.5ZM1485.0 672H1490.5V684.2H1485.0ZM1492.0 672H1501.5V684.2H1492.0ZM1503.0 672H1504.0V684.2H1503.0ZM1504.7 672H1505.7V684.2H1504.7ZM1506.5 672H1507.4V684.2H1506.5ZM1508.4 672H1510.9V684.2H1508.4ZM1511.9 672H1513.4V684.2H1511.9ZM1514.2 672H1515.2V684.2H1514.2ZM1515.9 672H1517.4V684.2H1515.9ZM1518.4 672H1521.4V684.2H1518.4ZM1522.9 672H1525.4V684.2H1522.9ZM1526.9 672H1531.9V684.2H1526.9ZM1532.6 672H1533.4V684.2H1532.6ZM1534.1 672H1534.9V684.2H1534.1ZM1535.6 672H1536.5V684.2H1535.6ZM1540.0 672H1543.0V684.2H1540.0ZM1544.0 672H1547.5V684.2H1544.0ZM1561.4 672H1563.9V684.2H1561.4ZM1564.9 672H1566.1V684.2H1564.9ZM1566.9 672H1567.9V684.2H1566.9ZM1568.6 672H1569.6V684.2H1568.6ZM1571.1 672H1573.9V684.2H1571.1ZM1576.9 672H1578.4V684.2H1576.9ZM1579.9 672H1584.3V684.2H1579.9ZM1585.8 672H1588.3V684.2H1585.8ZM1589.8 672H1593.8V684.2H1589.8ZM1598.3 672H1600.3V684.2H1598.3ZM1601.8 672H1603.8V684.2H1601.8ZM1604.8 672H1607.3V684.2H1604.8ZM1609.3 672H1611.7V684.2H1609.3ZM1615.2 672H1616.7V684.2H1615.2ZM1617.7 672H1621.7V684.2H1617.7ZM1622.7 672H1623.7V684.2H1622.7ZM1624.5 672H1625.7V684.2H1624.5ZM1626.5 672H1631.2V684.2H1626.5ZM1644.1 672H1646.6V684.2H1644.1ZM1649.1 672H1651.1V684.2H1649.1ZM1676.5 672H1683.0V684.2H1676.5ZM1685.0 672H1688.5V684.2H1685.0ZM1690.5 672H1694.5V684.2H1690.5ZM1696.0 672H1698.4V684.2H1696.0ZM1699.4 672H1700.9V684.2H1699.4ZM1702.9 672H1708.4V684.2H1702.9ZM1709.4 672H1710.6V684.2H1709.4ZM1711.2 672H1712.2V684.2H1711.2ZM1712.9 672H1713.9V684.2H1712.9ZM1714.6 672H1715.6V684.2H1714.6ZM1716.4 672H1717.6V684.2H1716.4ZM1718.4 672H1719.4V684.2H1718.4ZM1720.9 672H1723.9V684.2H1720.9ZM1724.9 672H1726.3V684.2H1724.9ZM1727.8 672H1734.5V684.2H1727.8ZM1735.5 672H1737.5V684.2H1735.5ZM1750.4 672H1752.4V684.2H1750.4ZM1754.4 672H1755.9V684.2H1754.4ZM1756.9 672H1758.1V684.2H1756.9ZM1758.9 672H1759.9V684.2H1758.9ZM1760.6 672H1762.9V684.2H1760.6ZM1765.9 672H1768.4V684.2H1765.9ZM1769.4 672H1770.9V684.2H1769.4ZM1771.9 672H1775.8V684.2H1771.9ZM1777.3 672H1783.8V684.2H1777.3ZM1785.8 672H1791.3V684.2H1785.8ZM1792.6 672H1793.8V684.2H1792.6ZM1795.8 672H1797.0V684.2H1795.8ZM1797.8 672H1798.8V684.2H1797.8ZM1799.5 672H1800.8V684.2H1799.5ZM1801.5 672H1803.7V684.2H1801.5ZM1806.2 672H1809.2V684.2H1806.2ZM1811.7 672H1813.2V684.2H1811.7ZM1814.2 672H1816.2V684.2H1814.2ZM1826.2 672H1829.7V684.2H1826.2ZM1831.6 672H1834.1V684.2H1831.6ZM1847.1 672H1852.6V684.2H1847.1ZM1856.6 672H1859.0V684.2H1856.6ZM1862.0 672H1864.0V684.2H1862.0ZM1865.0 672H1868.0V684.2H1865.0ZM1869.0 672H1871.5V684.2H1869.0ZM1879.0 672H1883.0V684.2H1879.0ZM1884.5 672H1887.4V684.2H1884.5ZM1888.9 672H1893.4V684.2H1888.9ZM1894.4 672H1895.9V684.2H1894.4ZM1896.6 672H1897.6V684.2H1896.6ZM1898.4 672H1899.4V684.2H1898.4ZM1900.4 672H1905.4V684.2H1900.4ZM1908.9 672H1917.8V684.2H1908.9ZM1919.3 672H1920.8V684.2H1919.3ZM1933.6 672H1935.6V684.2H1933.6ZM1936.5 672H1938.5V684.2H1936.5ZM1947.5 672H1949.5V684.2H1947.5ZM1951.5 672H1953.0V684.2H1951.5ZM1956.0 672H1960.0V684.2H1956.0ZM1961.5 672H1970.4V684.2H1961.5ZM1971.4 672H1972.9V684.2H1971.4ZM1973.9 672H1977.9V684.2H1973.9ZM1980.9 672H1983.4V684.2H1980.9ZM1984.4 672H1985.4V684.2H1984.4ZM1986.1 672H1987.1V684.2H1986.1ZM1987.9 672H1989.6V684.2H1987.9ZM1993.8 672H1996.3V684.2H1993.8Z" fill="#000" shape-rendering="crispEdges"/>
<rect x="975.3" y="117.0" width="1027.7" height="567.2" fill="none" stroke="#000" stroke-width="1.85"/>
<g stroke="#000" stroke-width="1.85" fill="none">
<path d="M961.8 662.6H975.3"/>
<path d="M961.8 554.8H975.3"/>
<path d="M961.8 447.0H975.3"/>
<path d="M961.8 339.2H975.3"/>
<path d="M961.8 231.4H975.3"/>
<path d="M961.8 123.6H975.3"/>
<path d="M1046.2 684.2V700.2"/>
<path d="M1173.5 684.2V700.2"/>
<path d="M1289.5 684.2V700.2"/>
<path d="M1406.8 684.2V700.2"/>
<path d="M1507.6 684.2V700.2"/>
<path d="M1595.8 684.2V700.2"/>
<path d="M1691.2 684.2V700.2"/>
<path d="M1791.8 684.2V700.2"/>
<path d="M1884 684.2V700.2"/>
<path d="M1964.9 684.2V700.2"/>
</g>
<g stroke="#ff0000" stroke-width="2.6" fill="none" stroke-linejoin="round" stroke-linecap="round">
<path d="M980.0 662.6L982.5 660.6L982.5 625.8L984.9 627.8L984.9 647.7L987.9 637.7L988.4 623.8L990.9 607.3L990.9 659.7L993.4 661.1L996.1 661.1L996.4 605.8L998.9 607.8L998.9 624.8L999.9 643.7L999.9 662.6L1004.9 662.6L1007.9 655.7L1007.9 627.8L1010.4 622.8L1010.4 652.7L1016.3 660.6L1018.3 660.6L1018.8 637.2L1020.8 639.2L1021.8 659.7L1023.8 652.7L1024.3 646.7L1028.3 646.7L1028.3 639.7L1029.8 628.8L1032.3 631.3L1032.3 644.7L1035.8 633.7L1038.8 627.8L1043.7 621.8L1043.7 610.8L1046.2 612.8L1046.7 637.2L1049.2 634.7L1049.2 584.4L1051.7 585.9L1052.2 656.7L1054.7 661.6L1057.2 661.6L1057.7 651.7L1060.2 644.7L1060.7 637.7L1063.2 627.8L1064.7 620.8L1066.2 620.8L1066.2 632.2L1068.2 630.8L1068.2 599.4L1069.7 606.8L1072.6 611.3L1075.6 618.8L1077.6 620.8L1077.6 623.8L1082.6 623.8L1082.6 620.8L1083.1 645.2L1084.6 648.7L1086.1 646.7L1086.1 632.7L1087.6 633.7L1087.6 622.8L1089.1 611.8L1091.1 602.9L1091.6 594.9L1093.6 587.9L1094.1 580.9L1096.1 580.9L1102.5 588.4L1104.5 589.9L1109.0 594.4L1109.5 590.9L1110.5 590.9L1110.5 597.4"/>
<path d="M1124.0 657.7L1126.5 655.7L1127.0 643.7L1129.4 634.2L1131.4 624.8L1131.9 616.8L1133.4 609.3L1134.9 610.8L1134.9 638.7L1136.9 641.7L1137.4 654.7L1140.4 658.7L1141.9 658.7L1142.4 636.2L1143.9 637.7L1144.4 649.7L1145.4 651.7L1145.4 662.6L1148.4 660.6L1152.4 657.7L1156.3 652.7L1157.3 641.7L1158.8 638.7L1158.8 624.8L1160.3 621.8L1160.0 605.8L1161.5 595.9L1164.0 598.9L1164.0 619.8L1166.0 617.8L1166.0 600.9L1166.2 613.8L1170.0 608.8L1172.5 606.8L1173.0 603.8L1173.5 580.9L1175.9 582.4L1175.9 599.4L1177.4 599.9L1177.4 630.8L1179.9 628.8L1179.9 612.8L1181.9 615.8L1183.9 619.8L1184.4 640.7L1184.9 652.7L1186.9 650.7L1188.4 647.7L1188.4 634.2L1188.9 639.7L1191.9 638.7L1191.9 617.8L1195.4 615.8L1197.9 622.3L1198.4 647.7L1199.9 648.7L1200.4 658.7L1203.8 658.7L1207.8 654.2L1209.8 656.7L1210.8 660.6L1214.8 656.7L1218.3 654.7L1219.3 647.7L1220.3 645.7L1220.3 639.2"/>
<path d="M1233.7 639.2L1235.7 640.7L1238.2 647.7L1238.7 650.7L1239.2 648.2L1241.7 648.2L1246.2 659.7L1246.7 662.1L1250.7 662.1L1252.7 659.7L1256.2 659.7L1258.2 652.7L1259.7 654.7L1261.6 659.7L1262.1 662.6L1263.6 662.6L1263.6 614.3L1265.6 615.8L1265.6 662.6L1270.6 662.6L1273.6 658.7L1278.1 662.1L1279.6 656.7L1280.1 649.7L1282.1 648.7L1282.6 642.7L1284.1 640.7L1284.6 634.7L1286.1 633.7L1286.1 611.8L1287.1 611.8L1287.1 583.9L1289.5 585.4L1289.5 607.8L1290.5 607.8L1290.5 628.8L1293.5 623.8L1294.5 617.8L1296.0 615.8L1298.0 618.8L1298.0 630.8L1301.5 630.8L1301.5 652.7L1303.5 650.7L1303.5 637.7L1306.5 642.7L1311.5 654.7L1312.0 660.6L1314.0 659.7L1315.0 647.7L1317.0 649.2L1318.9 661.6L1320.4 662.1L1323.4 654.7L1323.4 622.3L1325.9 623.8L1325.9 644.7L1329.4 648.7L1331.4 648.7L1332.4 642.7L1333.9 640.7L1333.9 633.7L1336.4 629.3L1338.4 630.8L1338.9 638.7L1340.4 639.7L1340.4 646.7L1344.4 655.7"/>
<path d="M1358.0 632.7L1360.0 630.8L1360.0 603.8L1362.5 606.8L1362.5 612.8L1364.9 616.8L1364.9 626.8L1366.4 628.8L1366.4 638.7L1367.9 638.7L1367.9 633.7L1375.9 617.8L1377.4 619.8L1377.4 637.7L1384.9 637.7L1384.9 662.6L1387.4 660.6L1387.9 634.2L1390.9 634.2L1390.9 660.6L1396.8 660.6L1398.8 654.7L1404.8 647.7L1404.8 650.7L1406.8 649.2L1406.8 631.7L1408.8 629.8L1408.8 620.8L1410.8 618.8L1410.8 611.8L1412.3 609.8L1412.3 600.9L1414.3 598.9L1414.3 590.9L1415.8 588.9L1415.8 580.9L1417.3 578.9L1417.3 571.0L1418.8 569.0L1418.8 560.0L1419.0 549.0L1420.5 551.0L1420.5 597.0L1421.7 594.9L1421.7 585.9L1424.2 583.9L1424.2 573.0L1425.7 573.0L1426.2 580.0L1428.2 578.0L1428.2 560.0L1429.2 558.5L1429.2 538.6L1430.7 536.6L1430.7 525.7L1431.7 523.7L1431.7 510.8L1433.7 509.8L1433.7 518.7L1434.7 507.8L1435.7 505.8L1435.7 426.0L1436.8 425.0L1437.5 428.0L1438.0 479.0L1438.6 480.0L1438.6 530.6L1440.1 532.6L1440.1 540.6L1441.6 542.6L1441.6 562.4L1442.9 564.4L1442.9 588.9L1444.7 591.9L1444.7 616.8L1446.2 619.8L1446.2 633.7L1448.2 636.7L1449.7 643.7L1450.6 647.7L1451.6 654.7L1452.6 658.7L1452.6 662.6"/>
<path d="M1466.6 659.7L1468.6 657.7L1468.6 644.7L1474.6 637.7L1476.6 637.7L1477.1 641.7L1478.6 639.7L1479.5 635.7L1481.5 636.7L1483.0 640.7L1484.0 646.7L1485.0 655.7L1485.5 634.2L1487.5 635.7L1488.0 660.6L1490.0 658.7L1490.0 642.7L1492.5 643.7L1494.5 654.7L1496.5 657.2L1498.5 655.7L1499.5 645.7L1501.5 642.7L1503.5 643.2L1505.0 645.7L1505.5 652.2L1508.4 652.2L1510.4 648.7L1511.9 652.2L1515.9 652.2L1516.9 645.7L1518.4 640.7L1519.4 634.2L1521.4 636.7L1521.9 646.7L1523.4 641.7L1525.4 642.7L1526.4 657.2L1528.4 655.7L1529.4 651.7L1530.4 653.2L1530.9 655.7L1532.4 658.7L1533.4 655.7L1533.4 642.7L1534.9 623.8L1536.8 625.8L1537.3 636.7L1538.3 637.7L1538.8 655.7L1541.3 655.7L1544.3 658.7L1546.3 658.7L1546.3 653.7"/>
<path d="M1561.9 662.1L1564.9 658.7L1565.4 646.7L1567.9 638.7L1569.9 630.8L1571.4 625.8L1572.9 627.8L1574.9 635.7L1576.9 641.7L1579.9 641.7L1580.9 647.7L1580.9 638.2L1583.8 636.7L1585.3 638.7L1585.8 625.8L1587.8 627.8L1588.3 635.7L1590.8 633.7L1590.8 580.9L1592.8 582.9L1592.8 636.7L1597.8 643.7L1599.3 639.7L1600.8 641.7L1600.8 647.7L1603.8 655.7L1604.8 658.7L1609.8 662.6L1611.7 660.6L1614.2 651.7L1614.7 644.7L1616.2 639.7L1616.2 630.8L1617.2 628.8L1617.2 615.8L1618.7 614.8L1618.7 564.5L1621.2 566.0L1621.2 622.8L1624.7 629.8L1625.7 642.7L1627.2 647.7L1628.2 644.7L1628.2 619.3L1630.7 620.8L1630.7 639.7L1628.7 642.7"/>
<path d="M1645.1 611.3L1647.1 615.3L1649.6 623.8L1649.6 628.8L1651.1 628.8L1652.6 624.8L1664.6 604.8L1677.5 581.9L1677.5 569.0L1679.0 569.0L1679.0 588.9L1681.0 586.9L1681.0 560.0L1681.8 547.7L1681.8 530.8L1683.8 528.8L1683.8 524.8L1685.3 522.8L1685.3 519.8L1686.3 518.8L1686.3 481.9L1687.8 478.9L1691.3 478.9L1691.3 467.5L1693.2 469.5L1693.2 518.8L1694.7 518.8L1699.2 512.8L1699.2 480.9L1700.2 478.9L1700.2 392.0L1702.2 394.0L1702.2 402.9L1703.7 404.9L1703.7 413.8L1705.2 415.8L1705.2 455.7L1706.2 457.7L1706.2 478.9L1707.7 480.9L1707.7 532.7L1709.2 534.7L1709.2 541.7L1710.7 543.7L1710.7 550.7L1711.2 552.7L1711.2 577.0L1712.4 579.0L1712.4 603.8L1713.9 605.8L1714.9 616.8L1715.9 618.8L1715.9 627.8L1718.4 637.7L1718.4 647.7L1720.4 647.7L1720.9 642.7L1722.4 644.7L1722.4 655.7L1723.9 655.7L1724.4 647.7L1725.3 648.2L1725.8 657.7L1728.3 662.6L1729.8 661.6L1730.8 652.7L1731.8 650.7L1732.3 641.7L1733.8 639.7L1733.8 619.8L1735.8 617.8L1735.8 597.9L1737.3 599.9L1737.3 603.8"/>
<path d="M1749.4 652.2L1751.4 650.2L1751.4 644.7L1752.9 642.7L1752.9 636.7L1754.4 634.7L1754.4 625.8L1756.4 627.8L1756.4 657.2L1758.9 655.7L1759.4 640.7L1760.4 638.7L1760.4 628.8L1763.4 627.8L1763.9 611.8L1764.9 610.8L1764.9 593.9L1766.4 591.9L1766.4 576.0L1768.5 572.0L1768.5 522.8L1770.5 520.0L1770.5 469.0L1771.5 467.0L1771.5 417.8L1772.3 415.5L1772.3 363.4L1774.0 361.0L1774.0 278.7L1775.3 277.0L1775.3 248.4L1776.8 246.5L1776.8 219.4L1777.8 218.0L1777.8 184.6L1779.3 183.0L1779.3 139.0L1780.3 138.0L1781.7 140.0L1781.7 224.4L1783.0 226.0L1783.0 275.2L1784.2 277.0L1784.2 306.5L1785.7 308.0L1785.7 340.0L1786.5 350.0L1787.0 328.0L1790.0 330.0L1790.0 449.3L1791.7 452.3L1792.9 452.7L1793.9 455.7L1793.9 491.9L1795.4 493.9L1795.4 530.8L1796.9 532.7L1796.9 564.6L1796.2 570.3L1798.3 562.3L1800.8 564.0L1800.8 583.9L1801.8 585.4L1801.8 605.8L1803.7 603.8L1803.7 584.9L1805.7 582.9L1806.2 572.5L1808.2 574.4L1808.2 615.8L1809.7 618.8L1809.7 623.8L1811.7 629.8L1811.7 637.2L1814.7 631.7L1820.7 621.8L1824.7 616.8L1827.2 610.8L1827.2 594.9L1829.6 589.9L1829.6 575.9L1831.1 574.0L1831.1 559.0L1833.0 558.0L1833.0 602.8"/>
<path d="M1845.9 647.2L1847.9 648.7L1848.4 652.2L1849.9 652.7L1850.8 656.2L1852.8 652.7L1853.3 648.7L1855.3 645.7L1856.3 639.7L1857.8 636.7L1857.8 629.3L1859.8 630.8L1859.8 637.7L1861.3 642.7L1862.3 650.7L1864.3 653.7L1864.3 662.6L1866.3 660.6L1866.8 652.7L1869.3 651.7L1869.8 659.7L1871.8 657.7L1872.8 650.7L1874.3 647.7L1874.8 640.7L1876.8 635.7L1876.8 627.8L1878.3 624.8L1878.3 620.8L1880.7 619.3L1880.7 636.7L1882.2 637.7L1883.7 645.7L1884.2 656.7L1886.2 656.7L1888.2 660.6L1890.2 662.6L1891.7 660.6L1891.7 654.2L1893.2 654.2L1897.7 660.6L1897.7 662.1L1900.7 662.1L1901.2 654.2L1901.7 662.1L1904.7 659.7L1906.7 662.1L1910.6 662.1L1911.1 659.7L1913.6 659.7L1914.1 662.1L1914.6 640.7L1916.6 642.7L1917.1 658.7L1918.1 658.7L1918.6 649.2L1920.1 649.2L1920.1 659.2"/>
<path d="M1932.6 611.3L1935.1 609.3L1935.1 590.9L1936.5 588.9L1936.5 571.0L1938.0 564.0L1939.5 567.0L1940.0 574.9L1941.5 578.9L1945.5 599.9L1948.5 613.8L1951.5 626.8L1951.5 637.7L1953.5 636.7L1953.5 630.8L1956.0 627.8L1956.0 642.7L1957.5 636.7L1959.0 638.7L1959.0 652.7L1961.0 648.7L1961.5 644.7L1962.5 637.7L1964.4 639.7L1964.9 656.2L1966.4 654.7L1968.4 647.7L1972.4 643.7L1974.4 629.8L1976.4 626.8L1976.9 614.3L1979.4 614.8L1982.4 618.8L1982.4 630.8L1984.4 628.8L1984.9 607.3L1986.9 608.8L1987.4 633.7L1988.9 634.7L1988.9 660.6L1990.4 658.7L1990.9 645.7L1992.8 639.7L1993.3 630.8L1995.3 632.7L1995.3 662.6"/>
</g>
<path d="M975.3 473.9H2003.0" stroke="#0000e6" stroke-width="2.1" stroke-dasharray="7 4.2" stroke-dashoffset="0.7" fill="none"/>
<g font-family="'Liberation Serif', 'Times New Roman', serif" fill="#000" stroke="#000" stroke-width="0.5" stroke-linejoin="round">
<text transform="translate(879.3 117.5) scale(0.966 1)" font-size="42.7">B</text>
<text transform="translate(947.7 673.7) scale(0.787 1)" font-size="28.6" text-anchor="end">0</text>
<text transform="translate(947.7 565.9) scale(0.787 1)" font-size="28.6" text-anchor="end">2</text>
<text transform="translate(947.7 458.1) scale(0.787 1)" font-size="28.6" text-anchor="end">4</text>
<text transform="translate(947.7 350.3) scale(0.787 1)" font-size="28.6" text-anchor="end">6</text>
<text transform="translate(947.7 242.5) scale(0.787 1)" font-size="28.6" text-anchor="end">8</text>
<text transform="translate(947.7 134.7) scale(0.787 1)" font-size="28.6" text-anchor="end">10</text>
<text transform="translate(1488 807) scale(0.75 1)" font-size="28" text-anchor="middle">Chromesomes</text>
<text transform="translate(891.1 400.2) rotate(-90) scale(1.096 1)" font-size="24.3" text-anchor="middle">Lod</text>
</g>
<g font-family="'Liberation Sans', Arial, sans-serif" fill="#000" stroke="#000" stroke-width="0.3">
<text transform="translate(1045.0 742) scale(0.79 1)" font-size="29.85" text-anchor="middle">1</text>
<text transform="translate(1172.3 742) scale(0.79 1)" font-size="29.85" text-anchor="middle">2</text>
<text transform="translate(1288.3 742) scale(0.79 1)" font-size="29.85" text-anchor="middle">3</text>
<text transform="translate(1405.6 742) scale(0.79 1)" font-size="29.85" text-anchor="middle">4</text>
<text transform="translate(1506.3999999999999 742) scale(0.79 1)" font-size="29.85" text-anchor="middle">5</text>
<text transform="translate(1594.6 742) scale(0.79 1)" font-size="29.85" text-anchor="middle">6</text>
<text transform="translate(1690.0 742) scale(0.79 1)" font-size="29.85" text-anchor="middle">7</text>
<text transform="translate(1790.6 742) scale(0.79 1)" font-size="29.85" text-anchor="middle">8</text>
<text transform="translate(1882.8 742) scale(0.79 1)" font-size="29.85" text-anchor="middle">9</text>
<text transform="translate(1964.9 742) scale(0.79 1)" font-size="29.85" text-anchor="middle">10</text>
</g>
</g>
</svg>
</body></html>
